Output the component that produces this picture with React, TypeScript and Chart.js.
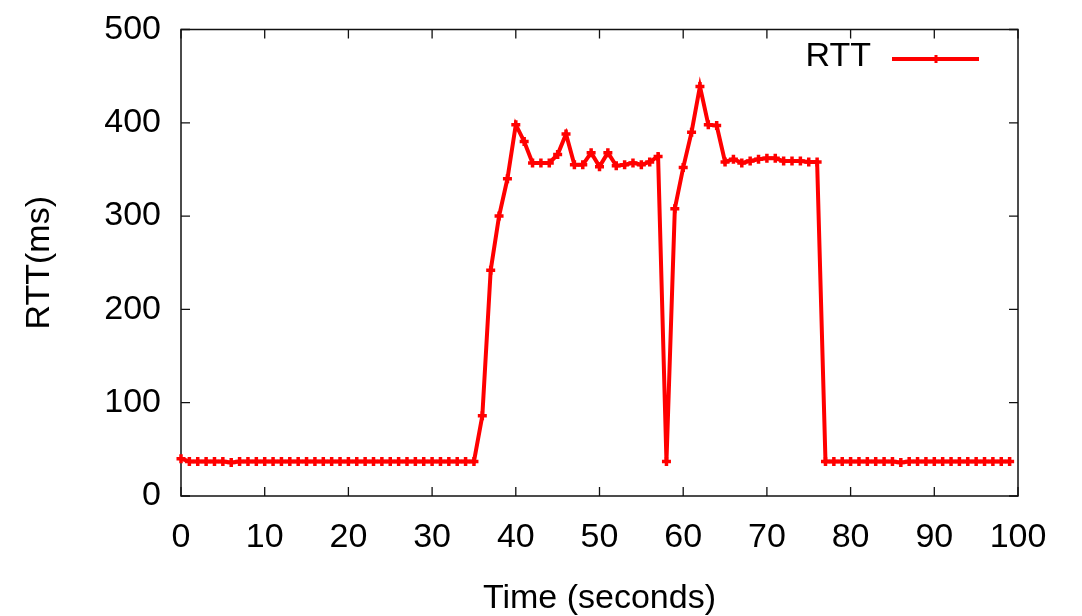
import React, { useEffect, useRef } from "react";
import { Chart, registerables } from "chart.js";

Chart.register(...registerables);

const timeSeconds = [
  0, 1, 2, 3, 4, 5, 6, 7, 8, 9,
  10, 11, 12, 13, 14, 15, 16, 17, 18, 19,
  20, 21, 22, 23, 24, 25, 26, 27, 28, 29,
  30, 31, 32, 33, 34, 35, 36, 37, 38, 39,
  40, 41, 42, 43, 44, 45, 46, 47, 48, 49,
  50, 51, 52, 53, 54, 55, 56, 57, 58, 59,
  60, 61, 62, 63, 64, 65, 66, 67, 68, 69,
  70, 71, 72, 73, 74, 75, 76, 77, 78, 79,
  80, 81, 82, 83, 84, 85, 86, 87, 88, 89,
  90, 91, 92, 93, 94, 95, 96, 97, 98, 99,
];

const rttMs = [
  40, 37, 37, 37, 37, 37, 36, 37, 37, 37,
  37, 37, 37, 37, 37, 37, 37, 37, 37, 37,
  37, 37, 37, 37, 37, 37, 37, 37, 37, 37,
  37, 37, 37, 37, 37, 37, 86, 242, 300, 340,
  398, 380, 357, 357, 357, 366, 388, 355, 355, 368,
  353, 368, 354, 355, 357, 355, 358, 364, 37, 308,
  352, 390, 439, 398, 397, 358, 361, 357, 359, 361,
  362, 362, 359, 359, 359, 358, 358, 37, 37, 37,
  37, 37, 37, 37, 37, 37, 36, 37, 37, 37,
  37, 37, 37, 37, 37, 37, 37, 37, 37, 37,
];

const xTicks = [0, 10, 20, 30, 40, 50, 60, 70, 80, 90, 100];
const yTicks = [0, 100, 200, 300, 400, 500];
const seriesLabel = "RTT";
const xTitle = "Time (seconds)";
const yTitle = "RTT(ms)";

const FONT = "'Liberation Sans', Arial, Helvetica, sans-serif";
const RED = "#ff0000";

const framePlugin = {
  id: "gnuFrame",
  beforeDatasetsDraw(chart: any) {
    const { ctx, chartArea } = chart;
    const { left, right, top, bottom } = chartArea;
    const xs = chart.scales.x;
    const ys = chart.scales.y;
    const tl = 9;
    ctx.save();
    ctx.strokeStyle = "#111";
    ctx.lineWidth = 1.5;
    ctx.strokeRect(left, top, right - left, bottom - top);
    ctx.lineWidth = 1.3;
    ctx.beginPath();
    xTicks.forEach((v) => {
      const px = xs.getPixelForValue(v);
      ctx.moveTo(px, bottom);
      ctx.lineTo(px, bottom - tl);
      ctx.moveTo(px, top);
      ctx.lineTo(px, top + tl);
    });
    yTicks.forEach((v) => {
      const py = ys.getPixelForValue(v);
      ctx.moveTo(left, py);
      ctx.lineTo(left + tl, py);
      ctx.moveTo(right, py);
      ctx.lineTo(right - tl, py);
    });
    ctx.stroke();
    ctx.restore();
  },
  afterDraw(chart: any) {
    const { ctx } = chart;
    ctx.save();
    ctx.font = `34px ${FONT}`;
    ctx.fillStyle = "#000";
    ctx.textAlign = "right";
    ctx.textBaseline = "middle";
    ctx.fillText(seriesLabel, 871, 57);
    ctx.strokeStyle = RED;
    ctx.lineWidth = 4;
    ctx.beginPath();
    ctx.moveTo(892, 59);
    ctx.lineTo(979, 59);
    ctx.stroke();
    ctx.lineWidth = 3;
    ctx.beginPath();
    ctx.moveTo(936, 55);
    ctx.lineTo(936, 63);
    ctx.moveTo(932, 59);
    ctx.lineTo(940, 59);
    ctx.stroke();
    ctx.restore();
  },
};

export default function App() {
  const ref = useRef<HTMLCanvasElement | null>(null);

  useEffect(() => {
    if (!ref.current) return;
    const chart = new Chart(ref.current, {
      type: "line",
      data: {
        datasets: [
          {
            label: seriesLabel,
            data: timeSeconds.map((t, i) => ({ x: t, y: rttMs[i] })),
            borderColor: RED,
            backgroundColor: RED,
            borderWidth: 4,
            pointStyle: "cross",
            pointRadius: 4.5,
            pointBorderWidth: 3.5,
            pointBorderColor: RED,
            tension: 0,
            clip: false as any,
          },
        ],
      },
      options: {
        responsive: false,
        animation: false,
        events: [],
        layout: { padding: { left: 0, right: 64, top: 29.5, bottom: 0 } },
        plugins: {
          legend: { display: false },
          tooltip: { enabled: false },
        },
        scales: {
          x: {
            type: "linear",
            min: 0,
            max: 100,
            afterBuildTicks: (s: any) => {
              s.ticks = xTicks.map((v) => ({ value: v }));
            },
            afterFit: (s: any) => {
              s.height = 120;
              s.paddingLeft = 0;
              s.paddingRight = 0;
            },
            grid: { display: false, drawTicks: false },
            border: { display: false },
            ticks: {
              padding: 21,
              color: "#000",
              font: { family: FONT, size: 34 },
              maxRotation: 0,
              autoSkip: false,
            },
            title: {
              display: true,
              text: xTitle,
              color: "#000",
              font: { family: FONT, size: 34, lineHeight: 1 },
              padding: { top: 0, bottom: 0 },
            },
          },
          y: {
            type: "linear",
            min: 0,
            max: 500,
            afterBuildTicks: (s: any) => {
              s.ticks = yTicks.map((v) => ({ value: v }));
            },
            afterFit: (s: any) => {
              s.width = 181;
              s.paddingTop = 0;
              s.paddingBottom = 0;
            },
            grid: { display: false, drawTicks: false },
            border: { display: false },
            ticks: {
              padding: 20,
              color: "#000",
              font: { family: FONT, size: 34 },
              autoSkip: false,
            },
            title: {
              display: true,
              text: yTitle,
              color: "#000",
              font: { family: FONT, size: 34, lineHeight: 1 },
              padding: { top: 23, bottom: 0 },
            },
          },
        },
      },
      plugins: [framePlugin],
    });
    return () => chart.destroy();
  }, []);

  return (
    <div style={{ position: "absolute", left: 0, top: 0, width: 1082, height: 616, background: "#fff" }}>
      <canvas ref={ref} width={1082} height={616} style={{ display: "block", width: 1082, height: 616 }} />
    </div>
  );
}
